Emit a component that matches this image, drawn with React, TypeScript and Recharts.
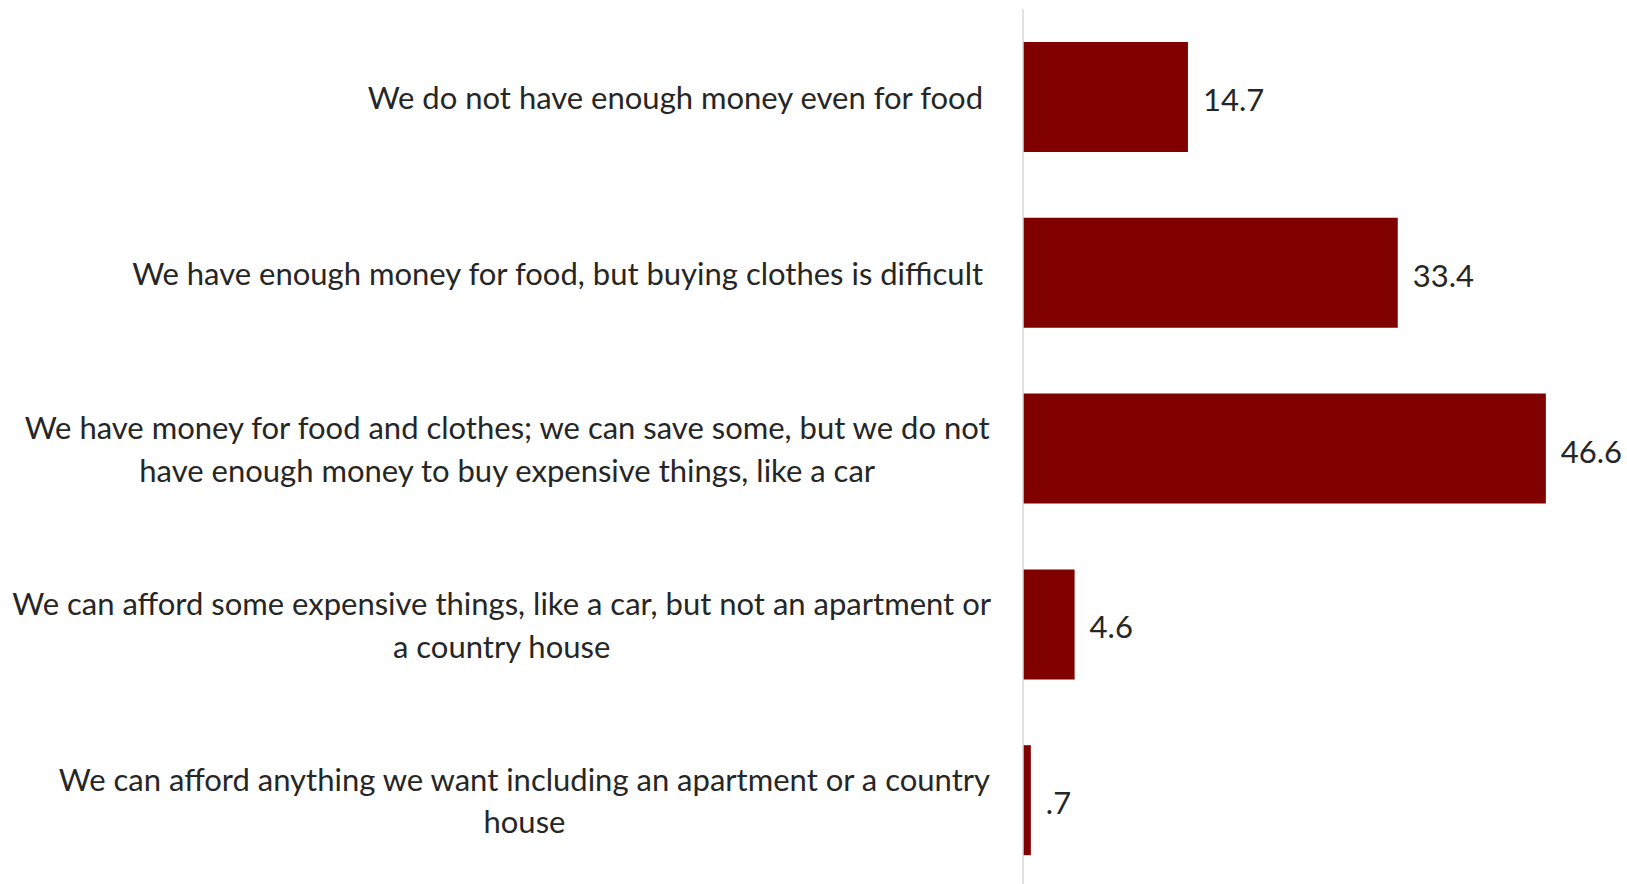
import React from "react";
import { BarChart, Bar, XAxis, YAxis, LabelList } from "recharts";

const categories = [
  "We do not have enough money even for food",
  "We have enough money for food, but buying clothes is difficult",
  "We have money for food and clothes; we can save some, but we do not have enough money to buy expensive things, like a car",
  "We can afford some expensive things, like a car, but not an apartment or a country house",
  "We can afford anything we want including an apartment or a country house",
];

const labelLines = [
  ["We do not have enough money even for food "],
  ["We have enough money for food, but buying clothes is difficult "],
  ["We have money for food and clothes; we can save some, but we do not", "have enough money to buy expensive things, like a car"],
  ["We can afford some expensive things, like a car, but not an apartment or", "a country house"],
  ["We can afford anything we want including an apartment or a country", "house"],
];

const values = [14.7, 33.4, 46.6, 4.6, 0.7];

const FONT = "Lato";
const FONT_SIZE = 31;
const LINE_HEIGHT = 42.5;
const TEXT_COLOR = "#262626";
const BAR_COLOR = "#800000";

const data = categories.map((name, i) => ({ name, value: values[i] }));

let ctx: CanvasRenderingContext2D | null = null;
function measure(text: string) {
  if (!ctx) ctx = document.createElement("canvas").getContext("2d");
  if (!ctx) return text.length * FONT_SIZE * 0.5;
  ctx.font = `${FONT_SIZE}px "${FONT}"`;
  return ctx.measureText(text).width;
}

function CategoryTick(props: any) {
  const { x, y, payload } = props;
  const idx = categories.indexOf(payload.value);
  const lines = labelLines[idx] ?? [payload.value];
  const widest = Math.max(...lines.map(measure));
  const cx = x - widest / 2;
  const y0 = y - ((lines.length - 1) * LINE_HEIGHT) / 2;
  return (
    <g>
      {lines.map((line: string, i: number) => (
        <text
          key={i}
          x={lines.length > 1 ? cx : x}
          y={y0 + i * LINE_HEIGHT}
          textAnchor={lines.length > 1 ? "middle" : "end"}
          dominantBaseline="central"
          fill={TEXT_COLOR}
          fontFamily={FONT}
          fontSize={FONT_SIZE}
          style={{ whiteSpace: "pre" }}
        >
          {line}
        </text>
      ))}
    </g>
  );
}

const formatValue = (v: any) => String(v).replace(/^0\./, ".");

// value labels sit a touch below the bar centre, as in the source
function ValueLabel(props: any) {
  const { x, y, width, height, value } = props;
  return (
    <text
      x={x + width + 15}
      y={y + height / 2 + 2}
      dominantBaseline="central"
      fill={TEXT_COLOR}
      fontFamily={FONT}
      fontSize={FONT_SIZE}
    >
      {formatValue(value)}
    </text>
  );
}

export default function App() {
  return (
    <div style={{ position: "absolute", top: 0, left: 0, width: 1627, height: 884, overflow: "hidden", background: "#fff" }}>
      <BarChart
        layout="vertical"
        width={1627}
        height={884}
        data={data}
        margin={{ top: 9, right: 43, bottom: -4, left: 0 }}
      >
        <XAxis type="number" domain={[0, 50]} hide />
        <YAxis
          type="category"
          dataKey="name"
          width={1023}
          axisLine={{ stroke: "#d9d9d9", strokeWidth: 1.5 }}
          tickLine={false}
          tickSize={6}
          tickMargin={26}
          interval={0}
          tick={<CategoryTick />}
        />
        <Bar dataKey="value" fill={BAR_COLOR} barSize={110} isAnimationActive={false}>
          <LabelList dataKey="value" content={<ValueLabel />} />
        </Bar>
      </BarChart>
    </div>
  );
}
